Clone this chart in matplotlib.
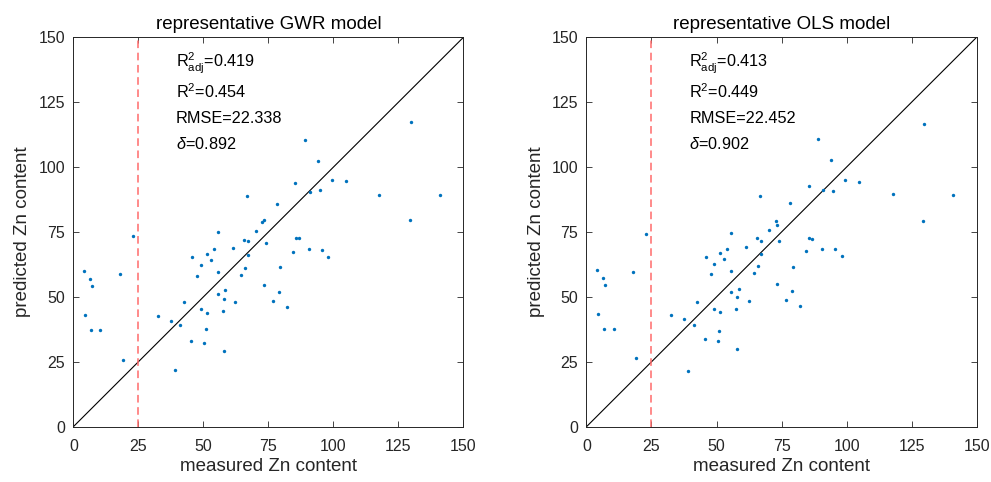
import matplotlib
matplotlib.use("Agg")
import matplotlib.pyplot as plt

plt.rcParams["font.family"] = ["Liberation Sans", "DejaVu Sans"]
plt.rcParams["mathtext.fontset"] = "custom"
plt.rcParams["mathtext.rm"] = "Liberation Sans"
plt.rcParams["mathtext.it"] = "Liberation Sans:italic"

# measured Zn content (shared by both models)
measured = [
    4.1, 6.4, 7.3, 4.4, 6.8, 10.4, 17.8, 19.1, 23.0, 32.6,
    37.4, 39.1, 41.2, 42.6, 45.4, 45.8, 47.7, 48.9, 48.9, 50.4,
    50.9, 51.3, 51.4, 52.8, 54.1, 55.6, 55.6, 55.5, 57.6, 57.8,
    58.5, 57.9, 61.2, 62.3, 64.5, 65.5, 66.0, 67.1, 66.9, 67.1,
    70.1, 72.7, 73.3, 73.2, 74.2, 76.7, 78.9, 82.2, 79.5, 78.3,
    84.4, 85.6, 86.6, 85.4, 89.0, 90.6, 91.0, 94.0, 94.8, 95.7,
    98.1, 99.5, 104.8, 117.7, 129.4, 129.8, 140.8,
]

# predictions of the GWR model
pred_gwr = [
    59.8, 56.9, 54.1, 43.0, 37.3, 37.3, 58.8, 25.7, 73.5, 42.7,
    40.8, 22.0, 39.0, 48.0, 33.2, 65.3, 58.0, 62.3, 45.2, 32.4,
    37.6, 43.9, 66.4, 64.2, 68.5, 75.0, 59.5, 51.2, 44.7, 49.0,
    52.5, 29.1, 68.9, 48.0, 58.6, 72.1, 61.3, 71.4, 88.8, 66.3,
    75.3, 79.0, 79.8, 54.6, 70.8, 48.3, 51.7, 46.1, 61.4, 85.8,
    67.3, 72.5, 72.5, 93.7, 110.6, 68.5, 90.5, 102.3, 91.0, 68.2,
    65.5, 94.9, 94.6, 89.2, 79.5, 117.2, 89.4,
]

# predictions of the OLS model
pred_ols = [
    60.5, 57.4, 54.7, 43.6, 37.8, 37.7, 59.5, 26.5, 74.3, 43.1,
    41.4, 21.4, 39.3, 48.1, 33.8, 65.4, 58.7, 62.8, 45.3, 33.2,
    36.8, 44.1, 66.9, 64.7, 68.6, 74.8, 60.0, 51.9, 45.4, 49.8,
    53.2, 29.9, 69.2, 48.4, 59.2, 72.5, 61.8, 71.7, 88.8, 66.7,
    75.9, 79.3, 77.6, 54.8, 71.6, 48.9, 52.1, 46.6, 61.4, 86.0,
    67.6, 72.7, 72.3, 92.7, 110.9, 68.5, 91.0, 102.6, 90.6, 68.6,
    65.9, 95.0, 94.3, 89.7, 79.2, 116.5, 89.1,
]

titles = ["representative GWR model", "representative OLS model"]
stats = [
    ["0.419", "0.454", "22.338", "0.892"],
    ["0.413", "0.449", "22.452", "0.902"],
]
threshold = 25
ticks = [0, 25, 50, 75, 100, 125, 150]

axis_col = "#262626"
fig = plt.figure(figsize=(9.91, 4.82), dpi=100)
lefts = [0.074, 0.5918]

for left, title, pred, st in zip(lefts, titles, [pred_gwr, pred_ols], stats):
    ax = fig.add_axes([left, 0.1147, 0.3937, 0.808])
    ax.plot([0, 150], [0, 150], color="black", lw=0.8)
    ax.axvline(threshold, color="#ff6b6b", lw=1.1, ls=(0, (5, 3)))
    ax.scatter(measured, pred, s=6, color="#0072BD", marker="o", linewidths=0, zorder=3)
    ax.set_xlim(0, 150)
    ax.set_ylim(0, 150)
    ax.set_xticks(ticks)
    ax.set_yticks(ticks)
    ax.tick_params(direction="in", top=True, right=True, length=4, width=0.6,
                   colors=axis_col, labelsize=11.5, labelcolor=axis_col, pad=6)
    ax.tick_params(axis="x", pad=9)
    for sp in ax.spines.values():
        sp.set_color(axis_col)
        sp.set_linewidth(0.7)
    ax.set_title(title, fontsize=13.5, color="black", pad=6)
    ax.set_xlabel("measured Zn content", fontsize=13.5, color=axis_col, labelpad=3)
    ax.set_ylabel("predicted Zn content", fontsize=13.5, color=axis_col, labelpad=5)

    lines = [
        r"R$^{2}_{\mathrm{adj}}$=" + st[0],
        r"R$^{2}$=" + st[1],
        "RMSE=" + st[2],
        r"$\delta$=" + st[3],
    ]
    ys = [140.0, 128.9, 118.9, 108.8]
    for txt, yy in zip(lines, ys):
        ax.text(39.5, yy, txt, fontsize=11.7, va="center", ha="left", color="black")

fig.savefig("out.png", dpi=100)
